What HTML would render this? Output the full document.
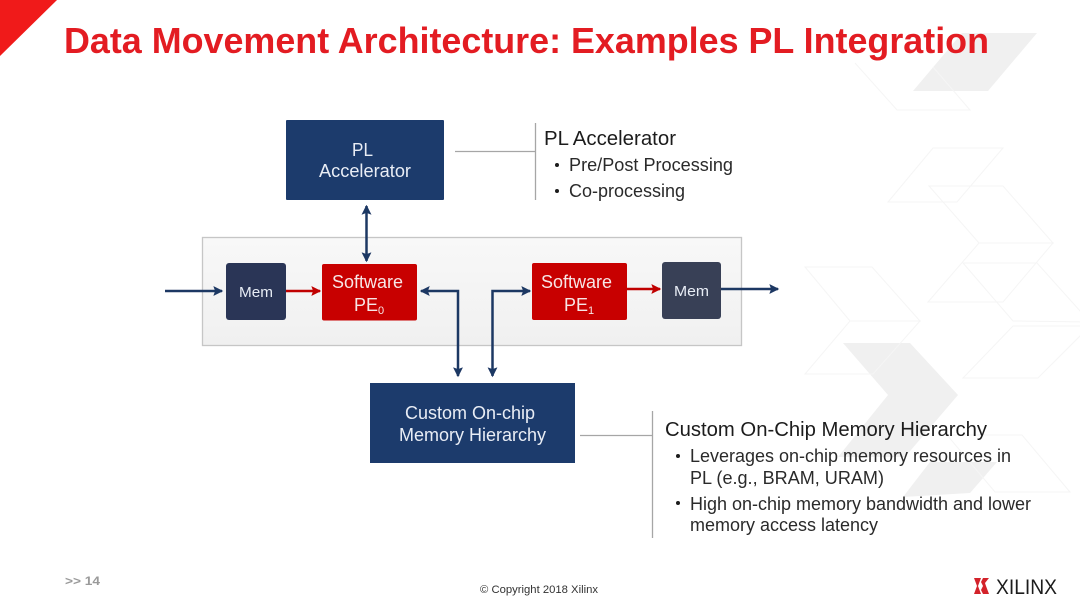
<!DOCTYPE html>
<html>
<head>
<meta charset="utf-8">
<style>
html,body{margin:0;padding:0;background:#fff}
svg{display:block}
text{font-family:"Liberation Sans",Arial,sans-serif}
</style>
</head>
<body>
<svg width="1080" height="608" viewBox="0 0 1080 608" xmlns="http://www.w3.org/2000/svg">
<defs>
<marker id="b" viewBox="0 0 8 8" refX="7" refY="4" markerWidth="10" markerHeight="10" markerUnits="userSpaceOnUse" orient="auto-start-reverse"><path d="M0 0L8 4L0 8L1.500 4Z" fill="#1f3864"/></marker>
<marker id="r" viewBox="0 0 8 8" refX="7" refY="4" markerWidth="10" markerHeight="10" markerUnits="userSpaceOnUse" orient="auto"><path d="M0 0L8 4L0 8L1.500 4Z" fill="#c00000"/></marker>
<linearGradient id="p" x1="0" y1="0" x2="0" y2="1"><stop offset="0" stop-color="#f8f8f8"/><stop offset="1" stop-color="#f0f0f0"/></linearGradient>
<filter id="s" x="-5%" y="-5%" width="110%" height="110%"><feGaussianBlur stdDeviation="0.35"/></filter>
</defs>
<rect width="1080" height="608" fill="#fff"/>

<!-- background shapes -->
<g fill="#f0f0f0">
<polygon points="962,33 1037,33 988,91 913,91"/>
<polygon points="843,343 910,343 958,395 905,457 838,457 888,395"/>
<polygon points="930,462 997,462 970,493 903,497"/>
</g>
<g fill="none" stroke="#f5f5f5" stroke-width="1">
<polyline points="855,63 897,110 970,110 933,67"/>
<polygon points="933,148 1003,148 957,202 888,202"/>
<polygon points="929,186 1003,186 1053,243 979,243"/>
<polygon points="979,243 1053,243 1003,302 928,302"/>
<polygon points="963,263 1037,263 1090,322 1013,321"/>
<polygon points="1013,326 1090,326 1038,378 963,378"/>
<polygon points="805,267 872,267 920,321 850,321"/>
<polygon points="850,321 920,321 873,374 805,374"/>
<polygon points="947,435 1022,435 1070,492 995,492"/>
</g>

<!-- corner -->
<polygon points="0,0 57,0 0,56" fill="#f01a1a"/>

<g filter="url(#s)">
<!-- title -->
<text x="64" y="53" font-size="36" font-weight="bold" fill="#e31b23" textLength="925" lengthAdjust="spacingAndGlyphs">Data Movement Architecture: Examples PL Integration</text>

<!-- panel -->
<rect x="202.500" y="237.500" width="539" height="108" fill="url(#p)" stroke="#c6c6c6" stroke-width="1.300"/>

<!-- boxes -->
<rect x="286" y="120" width="158" height="80" rx="1" fill="#1f3b6c"/>
<rect x="370" y="383" width="205" height="80" fill="#1f3b6c"/>
<rect x="226" y="263" width="60" height="57" rx="3" fill="#2a3557"/>
<rect x="662" y="262" width="59" height="57" rx="3" fill="#383f57"/>
<rect x="322" y="264" width="95" height="56.500" rx="2" fill="#c80000"/>
<rect x="532" y="263" width="95" height="57" rx="2" fill="#c80000"/>

<!-- connectors -->
<g fill="none" stroke="#a6a6a6" stroke-width="1.300">
<path d="M455 151.500H535.500M535.500 123V200"/>
<path d="M580 435.500H652.500M652.500 411V538"/>
</g>
<g fill="none" stroke="#1f3864" stroke-width="2.500">
<line x1="366.500" y1="206" x2="366.500" y2="261" marker-start="url(#b)" marker-end="url(#b)"/>
<line x1="165" y1="291" x2="222" y2="291" marker-end="url(#b)"/>
<polyline points="421,291 458,291 458,376" marker-start="url(#b)" marker-end="url(#b)"/>
<polyline points="492.500,376 492.500,291 530,291" marker-start="url(#b)" marker-end="url(#b)"/>
<line x1="721" y1="289" x2="778" y2="289" marker-end="url(#b)"/>
</g>
<g fill="none" stroke="#c00000" stroke-width="2.500">
<line x1="286" y1="291" x2="320" y2="291" marker-end="url(#r)"/>
<line x1="627" y1="289" x2="660" y2="289" marker-end="url(#r)"/>
</g>

<!-- box text -->
<g fill="#e8edf5" font-size="18">
<text x="352" y="156" textLength="21" lengthAdjust="spacingAndGlyphs">PL</text>
<text x="319" y="177" textLength="92" lengthAdjust="spacingAndGlyphs">Accelerator</text>
<text x="405" y="419" textLength="130" lengthAdjust="spacingAndGlyphs">Custom On-chip</text>
<text x="399" y="441" textLength="147" lengthAdjust="spacingAndGlyphs">Memory Hierarchy</text>
<text x="239" y="297" font-size="14.500" textLength="34" lengthAdjust="spacingAndGlyphs">Mem</text>
<text x="674" y="296" font-size="14.500" textLength="35" lengthAdjust="spacingAndGlyphs">Mem</text>
</g>
<g fill="#f7e6e6" font-size="18">
<text x="332" y="288" textLength="71" lengthAdjust="spacingAndGlyphs">Software</text>
<text x="354" y="311" textLength="24" lengthAdjust="spacingAndGlyphs">PE</text>
<text x="378" y="314" font-size="11">0</text>
<text x="541" y="288" textLength="71" lengthAdjust="spacingAndGlyphs">Software</text>
<text x="564" y="311" textLength="24" lengthAdjust="spacingAndGlyphs">PE</text>
<text x="588" y="314" font-size="11">1</text>
</g>

<!-- callouts -->
<g fill="#1c1c1c">
<text x="544" y="145" font-size="20" textLength="132" lengthAdjust="spacingAndGlyphs">PL Accelerator</text>
<circle cx="557" cy="165" r="2"/>
<text x="569" y="171" font-size="18" fill="#2a2a2a" textLength="164" lengthAdjust="spacingAndGlyphs">Pre/Post Processing</text>
<circle cx="557" cy="191" r="2"/>
<text x="569" y="197" font-size="18" fill="#2a2a2a" textLength="116" lengthAdjust="spacingAndGlyphs">Co-processing</text>

<text x="665" y="436" font-size="20" textLength="322" lengthAdjust="spacingAndGlyphs">Custom On-Chip Memory Hierarchy</text>
<circle cx="678" cy="456" r="2"/>
<text x="690" y="462" font-size="18" fill="#2a2a2a" textLength="321" lengthAdjust="spacingAndGlyphs">Leverages on-chip memory resources in</text>
<text x="690" y="484" font-size="18" fill="#2a2a2a" textLength="194" lengthAdjust="spacingAndGlyphs">PL (e.g., BRAM, URAM)</text>
<circle cx="678" cy="503" r="2"/>
<text x="690" y="510" font-size="18" fill="#2a2a2a" textLength="341" lengthAdjust="spacingAndGlyphs">High on-chip memory bandwidth and lower</text>
<text x="690" y="531" font-size="18" fill="#2a2a2a" textLength="188" lengthAdjust="spacingAndGlyphs">memory access latency</text>
</g>

<!-- footer -->
<text x="65" y="585" font-size="12" font-weight="bold" fill="#9a9a9a" textLength="35" lengthAdjust="spacingAndGlyphs">&gt;&gt; 14</text>
<text x="480" y="593" font-size="11" fill="#333" textLength="118" lengthAdjust="spacingAndGlyphs">© Copyright 2018 Xilinx</text>

<!-- logo -->
<path d="M974 578H981L978 586L981 594H974L977 586Z M983 578H989L985 583L986 586H983L981 582Z M983 586H986L989 594H983L981 590Z" fill="#d3242b"/>
<text x="996" y="594" font-size="21" fill="#1a1a1a" textLength="61" lengthAdjust="spacingAndGlyphs">XILINX</text>
</g>
</svg>
</body>
</html>
